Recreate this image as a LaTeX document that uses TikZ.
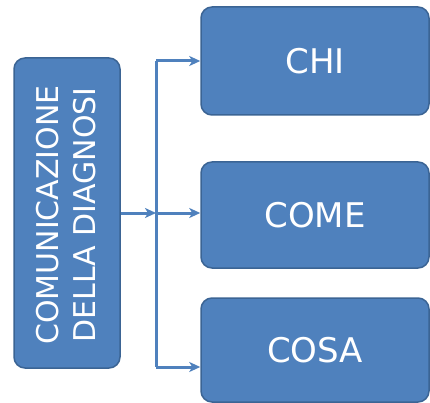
\documentclass[tikz,border=0pt]{standalone}
\usepackage{fontspec}
\setmainfont{DejaVu Sans}
\usetikzlibrary{arrows.meta}

\definecolor{boxblue}{HTML}{4F81BD}
\definecolor{boxedge}{HTML}{3B6494}

\begin{document}
\begin{tikzpicture}[x = 10pt, y = -10pt,
  bluebox/.style = {draw = boxedge, line width = 1.5pt, fill = boxblue, rounded corners = 11pt, text = white, inner sep = 0pt, align = center},
  link/.style = {draw = boxblue, line width = 3pt, -{Stealth[length = 11pt, width = 10pt, inset = 3pt]}}]
%\draw [very thin, color = gray](0, 0) grid (43, 40.3);
\useasboundingbox (0, 0) rectangle (43, 40.3);
\node [bluebox, minimum width = 106pt, minimum height = 310pt] (comm) at (6.7, 21.3) {};
\node [rotate = 90, text = white, font = \fontsize{30}{37}\selectfont, align = center] (commtext) at (6.6, 21.5) {COMUNICAZIONE\\DELLA DIAGNOSI};
\node [bluebox, minimum width = 228pt, minimum height = 108pt, font = \fontsize{34}{40}\selectfont] (chi) at (31.5, 6.1) {CHI};
\node [bluebox, minimum width = 228pt, minimum height = 106pt, font = \fontsize{34}{40}\selectfont] (come) at (31.5, 21.5) {COME};
\node [bluebox, minimum width = 228pt, minimum height = 104pt, font = \fontsize{34}{40}\selectfont] (cosa) at (31.5, 35.0) {COSA};
\coordinate (jtop) at (15.6, 6.1);
\coordinate (jmid) at (15.6, 21.3);
\coordinate (jbot) at (15.6, 36.7);
\draw [link] (comm.east |- jmid) to (jmid);
\draw [draw = boxblue, line width = 3pt] (jtop) to (jbot);
\draw [link] (jtop) to (jtop -| chi.west);
\draw [link] (jmid) to (jmid -| come.west);
\draw [link] (jbot) to (jbot -| cosa.west);
\end{tikzpicture}
\end{document}
